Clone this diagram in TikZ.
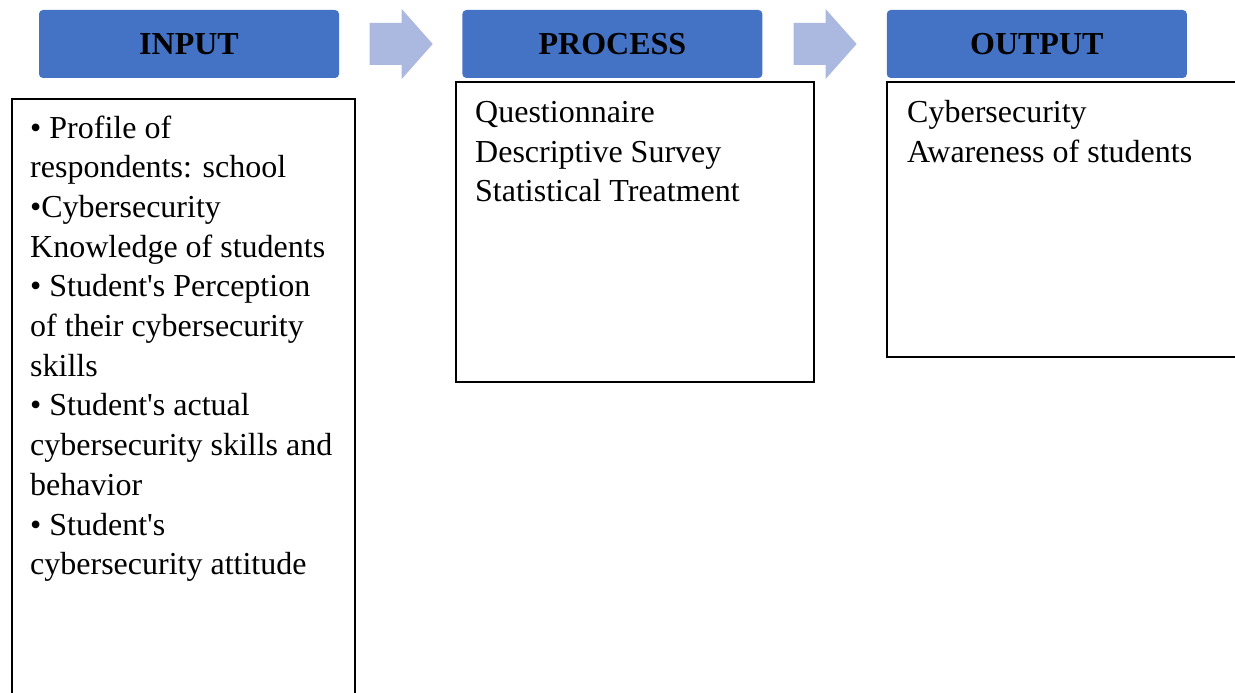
\documentclass[tikz,border=0pt]{standalone}
\usepackage{fontspec}
\setmainfont{Liberation Serif}
\usepackage{tikz}
\usetikzlibrary{calc,positioning}
\definecolor{hdblue}{RGB}{68,114,196}
\definecolor{flowblue}{RGB}{171,185,224}
\newcommand{\apos}{\textquotesingle}

\begin{document}
\begin{tikzpicture}[x=1pt,y=-1pt,
        head/.style={rectangle, rounded corners=4pt, fill=hdblue, minimum width=300pt, minimum height=68pt, inner sep=0pt, font=\fontsize{32}{38}\selectfont\bfseries},
        body/.style={rectangle, draw, line width=1.8pt, anchor=north west, inner sep=0pt},
        line/.style={anchor=base west, inner sep=0pt, font=\fontsize{32}{39.7}\selectfont},
        flow/.style={fill=flowblue}]

                \path[use as bounding box, clip] (0,0) rectangle (1235,693);

                \node[head] (inp) at (189,44) {INPUT};
                \node[head, right=123pt of inp] (pro) {PROCESS};
                \node[head, right=124pt of pro] (outp) {OUTPUT};

                \foreach \a/ \b in {inp/pro, pro/outp}{
                    \fill[flow, shift={($(\a.east)!0.5!(\b.west)$)}] (-31,-21) -- (1,-21) -- (1,-35) -- (32,0) -- (1,35) -- (1,21) -- (-31,21) -- cycle;
                }

                \node[body, minimum width=343pt, minimum height=620pt] (inbox) at (11,98) {};
                \node[body, minimum width=358pt, minimum height=300pt] (probox) at (455,81) {};
                \node[body, minimum width=400pt, minimum height=275pt] (outbox) at (886,81) {};

                \foreach \t [count=\i] in {{• Profile of}, {respondents: school}, {•Cybersecurity}, {Knowledge of students}, {• Student\apos s Perception}, {of their cybersecurity}, {skills}, {• Student\apos s actual}, {cybersecurity skills and}, {behavior}, {• Student\apos s}, {cybersecurity attitude}}{
                    \node[line] (in-\i) at (30,138+39.7*\i-39.7) {\t};
                }

                \foreach \t [count=\i] in {Questionnaire, Descriptive Survey, Statistical Treatment}{
                    \node[line] (pro-\i) at (475,122.5+39.7*\i-39.7) {\t};
                }

                \foreach \t [count=\i] in {Cybersecurity, Awareness of students}{
                    \node[line] (out-\i) at (907,122.5+39.7*\i-39.7) {\t};
                }
        \end{tikzpicture}
\end{document}
